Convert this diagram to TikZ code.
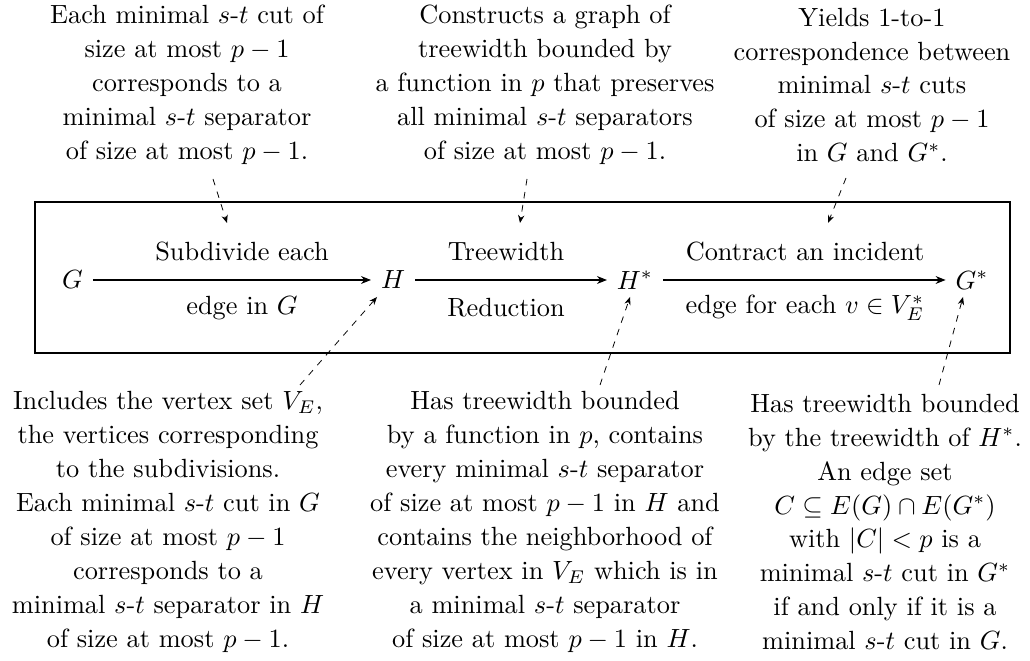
\documentclass[tikz,border=0pt]{standalone}
\usetikzlibrary{arrows.meta}
\begin{document}
\begin{tikzpicture}[x=0.38pt,y=-0.38pt,
  txt/.style={align=center,font=\fontsize{10}{12.9}\selectfont,inner sep=0pt},
  vert/.style={font=\fontsize{10}{12}\selectfont,inner sep=3.8pt,outer sep=0pt},
  lab/.style={font=\fontsize{10}{12}\selectfont,inner sep=0pt},
  mainarrow/.style={line width=0.4pt,-{Stealth[length=3.8pt,width=3pt]}},
  notearrow/.style={line width=0.3pt,dash pattern=on 2.5pt off 2.5pt,-{Stealth[length=3pt,width=2.4pt]}},
  frame/.style={line width=0.5pt}]
\useasboundingbox (0,0) rectangle (1030,661);
\draw[frame] (35,202) rectangle (1010,353);
% main chain
\node[vert] (G) at (72.5,280) {$G$};
\node[vert] (H) at (393,280) {$H$};
\node[vert] (Hs) at (635,280) {$H^*$};
\node[vert] (Gs) at (972,280) {$G^*$};
\draw[mainarrow] (G) -- (H);
\draw[mainarrow] (H) -- (Hs);
\draw[mainarrow] (Hs) -- (Gs);
\node[lab] (l1a) at (242,252) {Subdivide each};
\node[lab] (l1b) at (242,308) {edge in $G$};
\node[lab] (l2a) at (506,252) {Treewidth};
\node[lab] (l2b) at (506,308) {Reduction};
\node[lab] (l3a) at (805,252) {Contract an incident};
\node[lab] (l3b) at (805,308) {edge for each $v\in V_E^*$};
% top notes
\node[txt] (t1) at (187,85) {Each minimal $s$-$t$ cut of\\ size at most $p-1$\\ corresponds to a\\ minimal $s$-$t$ separator\\ of size at most $p-1$.};
\node[txt] (t2) at (545,85) {Constructs a graph of\\ treewidth bounded by\\ a function in $p$ that preserves\\ all minimal $s$-$t$ separators\\ of size at most $p-1$.};
\node[txt] (t3) at (872,85) {Yields 1-to-1\\ correspondence between\\ minimal $s$-$t$ cuts\\ of size at most $p-1$\\ in $G$ and $G^*$.};
% bottom notes
\node[txt] (b1) at (168,522) {Includes the vertex set $V_E$,\\ the vertices corresponding\\ to the subdivisions.\\ Each minimal $s$-$t$ cut in $G$\\ of size at most $p-1$\\ corresponds to a\\ minimal $s$-$t$ separator in $H$\\ of size at most $p-1$.};
\node[txt] (b2) at (545,522) {Has treewidth bounded\\ by a function in $p$, contains\\ every minimal $s$-$t$ separator\\ of size at most $p-1$ in $H$ and\\ contains the neighborhood of\\ every vertex in $V_E$ which is in\\ a minimal $s$-$t$ separator\\ of size at most $p-1$ in $H$.};
\node[txt] (b3) at (885,522) {Has treewidth bounded\\ by the treewidth of $H^*$.\\ An edge set\\ $C\subseteq E(G)\cap E(G^*)$\\ with $|C|<p$ is a\\ minimal $s$-$t$ cut in $G^*$\\ if and only if it is a\\ minimal $s$-$t$ cut in $G$.};
% connector ends
\coordinate (s1) at (213,179);
\coordinate (e1) at (227,223);
\coordinate (s2) at (527,179);
\coordinate (e2) at (520,223);
\coordinate (s3) at (846,178);
\coordinate (e3) at (828,223);
\coordinate (s4) at (300,385);
\coordinate (e4) at (377,297);
\coordinate (s5) at (600,385);
\coordinate (e5) at (630,297);
\coordinate (s6) at (939,385);
\coordinate (e6) at (963,297);
\draw[notearrow] (s1) -- (e1);
\draw[notearrow] (s2) -- (e2);
\draw[notearrow] (s3) -- (e3);
\draw[notearrow] (s4) -- (e4);
\draw[notearrow] (s5) -- (e5);
\draw[notearrow] (s6) -- (e6);
\end{tikzpicture}
\end{document}
